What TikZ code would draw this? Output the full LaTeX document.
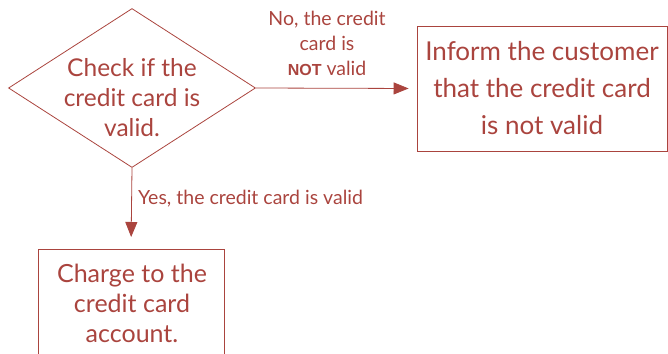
\documentclass[tikz,border=0pt]{standalone}
\usepackage{fontspec}
\setmainfont{Lato}
\newfontfamily\arialfont{Liberation Sans}
\usetikzlibrary{shapes.geometric,arrows.meta}
\definecolor{fc}{RGB}{170,68,62}
\begin{document}
\begin{tikzpicture}[x=1pt,y=-1pt,
  every node/.style={text=fc},
  decision/.style={diamond,draw=fc,line width=0.8pt,inner sep=0pt,aspect=1.553,minimum width=247pt,minimum height=159pt,align=center,font=\fontsize{24.5}{30}\selectfont},
  procbox/.style={rectangle,draw=fc,line width=0.8pt,inner sep=0pt,align=center},
  flow/.style={draw=fc,line width=0.8pt,-{Triangle[length=15pt,width=12pt]}},
  lbl/.style={font=\fontsize{19.5}{25}\selectfont,align=center,inner sep=0pt}]
\useasboundingbox (0,0) rectangle (668,353);
\clip (0,0) rectangle (668,353);
\node[decision,text width=1pt] (d) at (132,88) {};
\node (dtext) at (132,98) [align=center,inner sep=0pt,font=\fontsize{24.5}{30}\selectfont] {Check if the\\credit card is\\valid.};
\node[procbox,minimum width=250pt,minimum height=125pt,font=\fontsize{26}{37}\selectfont] (r) at (542,88.5) {Inform the customer\\that the credit card\\is not valid};
\node[procbox,minimum width=186pt,minimum height=130pt,anchor=north] (b) at (131,249) {};
\node[font=\fontsize{25}{30}\selectfont,align=center,inner sep=0pt] (btext) at (132,303) {Charge to the\\credit card\\account.};
\draw[flow,shorten >=8pt] (d.east) -- (r.west);
\draw[flow,shorten >=12pt] (d.south) -- (b.north);
\node[lbl] (nolbl) at (327,43) {No, the credit\\card is\\{\arialfont\bfseries\fontsize{16}{25}\selectfont NOT} valid};
\node[lbl,anchor=west] (yeslbl) at (138,199) {Yes, the credit card is valid};
\end{tikzpicture}
\end{document}
